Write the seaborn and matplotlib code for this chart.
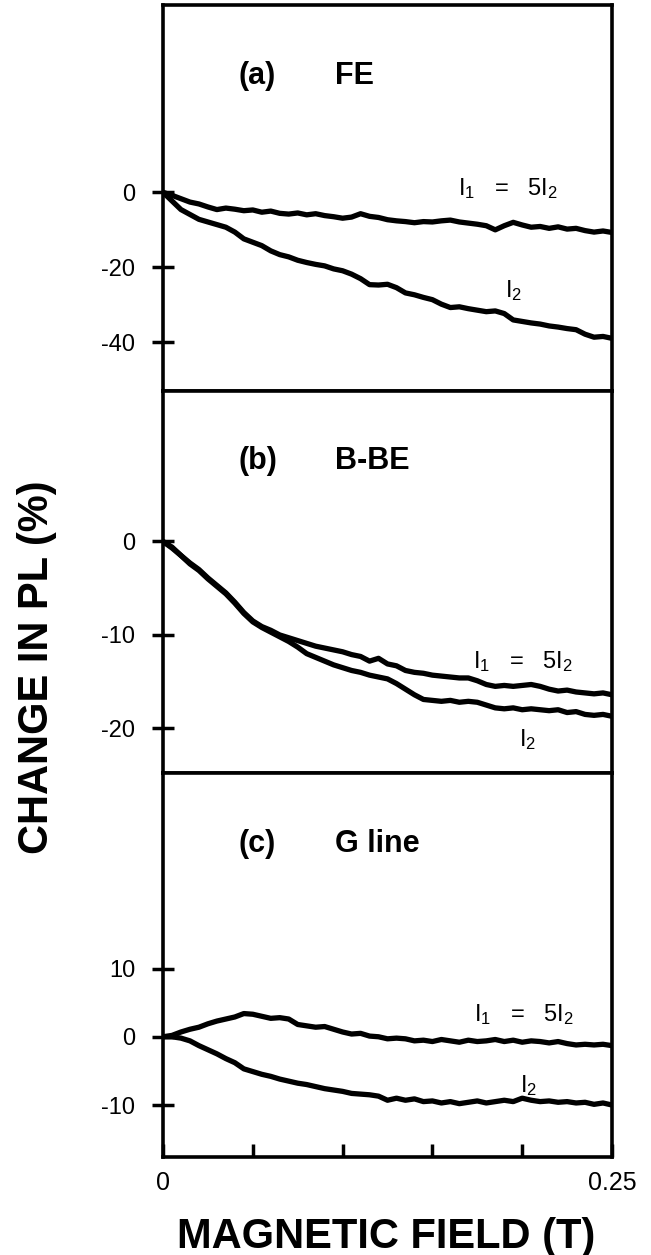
import matplotlib
matplotlib.use("Agg")
import matplotlib.pyplot as plt
import seaborn as sns

# ---------------- data ----------------
FIELD_T = [0.000, 0.005, 0.010, 0.015, 0.020, 0.025, 0.030, 0.035, 0.040, 0.045,
           0.050, 0.055, 0.060, 0.065, 0.070, 0.075, 0.080, 0.085, 0.090, 0.095,
           0.100, 0.105, 0.110, 0.115, 0.120, 0.125, 0.130, 0.135, 0.140, 0.145,
           0.150, 0.155, 0.160, 0.165, 0.170, 0.175, 0.180, 0.185, 0.190, 0.195,
           0.200, 0.205, 0.210, 0.215, 0.220, 0.225, 0.230, 0.235, 0.240, 0.245,
           0.250]

# (a) FE
FE_I1 = [0.0, -0.8, -1.7, -2.6, -3.1, -3.9, -4.6, -4.2, -4.5, -4.9,
         -4.7, -5.3, -5.0, -5.6, -5.8, -5.5, -6.0, -5.7, -6.2, -6.5,
         -6.9, -6.6, -5.7, -6.4, -6.7, -7.3, -7.6, -7.8, -8.1, -7.8,
         -7.9, -7.6, -7.4, -7.9, -8.2, -8.5, -8.9, -10.0, -8.9, -8.0,
         -8.7, -9.3, -9.1, -9.6, -9.2, -9.8, -9.6, -10.2, -10.6, -10.3,
         -10.7]
FE_I2 = [0.0, -2.3, -4.6, -5.9, -7.2, -7.9, -8.6, -9.3, -10.6, -12.4,
         -13.3, -14.2, -15.6, -16.6, -17.2, -18.1, -18.7, -19.2, -19.6, -20.4,
         -20.9, -21.8, -23.0, -24.6, -24.7, -24.5, -25.4, -26.8, -27.3, -28.0,
         -28.6, -29.8, -30.7, -30.5, -31.0, -31.4, -31.8, -31.6, -32.3, -34.0,
         -34.4, -34.8, -35.1, -35.6, -35.9, -36.3, -36.6, -37.8, -38.6, -38.4,
         -38.9]

# (b) B-BE
BBE_I1 = [0.0, -0.6, -1.5, -2.3, -3.0, -3.9, -4.7, -5.5, -6.5, -7.6,
          -8.5, -9.1, -9.5, -10.0, -10.3, -10.6, -10.9, -11.2, -11.4, -11.6,
          -11.8, -12.1, -12.3, -12.8, -12.5, -13.1, -13.3, -13.8, -14.0, -14.1,
          -14.3, -14.4, -14.5, -14.6, -14.6, -14.9, -15.3, -15.5, -15.4, -15.5,
          -15.4, -15.3, -15.5, -15.8, -16.0, -15.9, -16.1, -16.2, -16.3, -16.2,
          -16.4]
BBE_I2 = [0.0, -0.7, -1.5, -2.4, -3.1, -4.0, -4.8, -5.6, -6.6, -7.7,
          -8.6, -9.2, -9.7, -10.2, -10.7, -11.3, -12.0, -12.4, -12.8, -13.2,
          -13.5, -13.8, -14.0, -14.3, -14.5, -14.7, -15.2, -15.8, -16.4, -16.9,
          -17.0, -17.1, -17.0, -17.2, -17.1, -17.2, -17.5, -17.8, -17.9, -17.8,
          -18.0, -17.9, -18.0, -18.1, -18.0, -18.3, -18.2, -18.5, -18.6, -18.5,
          -18.7]

# (c) G line
G_I1 = [0.0, 0.2, 0.7, 1.1, 1.4, 1.9, 2.3, 2.6, 2.9, 3.4,
        3.3, 3.0, 2.7, 2.8, 2.6, 1.8, 1.6, 1.4, 1.5, 1.1,
        0.7, 0.4, 0.5, 0.1, 0.0, -0.3, -0.2, -0.3, -0.6, -0.5,
        -0.7, -0.4, -0.6, -0.8, -0.5, -0.7, -0.6, -0.4, -0.7, -0.5,
        -0.8, -0.6, -0.7, -0.9, -0.7, -1.0, -1.2, -1.1, -1.2, -1.1,
        -1.3]
G_I2 = [0.0, 0.0, -0.2, -0.6, -1.3, -1.9, -2.5, -3.2, -3.8, -4.7,
        -5.1, -5.5, -5.8, -6.2, -6.5, -6.8, -7.0, -7.3, -7.6, -7.8,
        -8.0, -8.3, -8.4, -8.5, -8.7, -9.3, -9.0, -9.3, -9.1, -9.5,
        -9.4, -9.7, -9.5, -9.8, -9.6, -9.4, -9.7, -9.5, -9.3, -9.5,
        -9.0, -9.3, -9.5, -9.4, -9.6, -9.5, -9.7, -9.6, -9.9, -9.7,
        -10.0]

PANEL_TAGS = ["(a)", "(b)", "(c)"]
PANEL_NAMES = ["FE", "B-BE", "G line"]
YTICKS = [[0, -20, -40], [0, -10, -20], [10, 0, -10]]
YLIMS = [(-52.8, 49.9), (-24.8, 16.15), (-17.57, 38.6)]
XTICKS = [0.0, 0.05, 0.10, 0.15, 0.20, 0.25]
XTICK_LABELS = ["0", "", "", "", "", "0.25"]
LABEL_I1 = "I$_1$   =   5I$_2$"
LABEL_I2 = "I$_2$"
# label anchor positions (field, value) for each panel
I1_POS = [(0.164, 1.1), (0.1725, -12.8), (0.173, 3.2)]
I2_POS = [(0.1905, -26.2), (0.198, -21.2), (0.199, -7.1)]

# ---------------- style ----------------
sns.set_style("ticks")
plt.rcParams["font.family"] = ["Liberation Sans", "DejaVu Sans"]
plt.rcParams["mathtext.fontset"] = "custom"
plt.rcParams["mathtext.rm"] = "Liberation Sans"
plt.rcParams["mathtext.it"] = "Liberation Sans:italic"
plt.rcParams["mathtext.bf"] = "Liberation Sans:bold"
plt.rcParams["axes.unicode_minus"] = False
for key in ["text.color", "axes.labelcolor", "xtick.color", "ytick.color",
            "axes.edgecolor"]:
    plt.rcParams[key] = "black"

fig = plt.figure(figsize=(6.51, 12.55), dpi=100)
left, width = 0.2504, 0.6897
boxes = [(0.68884, 0.30717), (0.38382, 0.30502), (0.07833, 0.30550)]

curves = [(FE_I1, FE_I2), (BBE_I1, BBE_I2), (G_I1, G_I2)]

for i, (bottom, height) in enumerate(boxes):
    ax = fig.add_axes([left, bottom, width, height])
    y1, y2 = curves[i]
    sns.lineplot(x=FIELD_T, y=y1, ax=ax, color="black", linewidth=3.8)
    sns.lineplot(x=FIELD_T, y=y2, ax=ax, color="black", linewidth=3.8)
    ax.set_xlim(0, 0.25)
    ax.set_ylim(*YLIMS[i])
    ax.set_yticks(YTICKS[i])
    ax.set_yticklabels([str(v) for v in YTICKS[i]])
    ax.tick_params(axis="y", direction="inout", length=16, width=2.5,
                   labelsize=17, pad=12, colors="black")
    for sp in ax.spines.values():
        sp.set_visible(True)
        sp.set_linewidth(2.6)
        sp.set_color("black")
    ax.set_xlabel("")
    ax.set_ylabel("")
    ax.text(0.168, 0.815, PANEL_TAGS[i], transform=ax.transAxes,
            fontsize=22, fontweight="bold", ha="left", va="center")
    ax.text(0.383, 0.815, PANEL_NAMES[i], transform=ax.transAxes,
            fontsize=22, fontweight="bold", ha="left", va="center")
    ax.text(I1_POS[i][0], I1_POS[i][1], LABEL_I1, fontsize=17,
            ha="left", va="center")
    ax.text(I2_POS[i][0], I2_POS[i][1], LABEL_I2, fontsize=17,
            ha="left", va="center")
    if i < 2:
        ax.tick_params(axis="x", bottom=False, labelbottom=False)
    else:
        ax.set_xticks(XTICKS)
        ax.set_xticklabels(XTICK_LABELS)
        ax.tick_params(axis="x", direction="in", length=9.5, width=2.5,
                       labelsize=18, pad=10, colors="black")

fig.text(0.593, 0.0143, "MAGNETIC FIELD (T)", fontsize=30, fontweight="bold",
         ha="center", va="center")
fig.text(0.057, 0.468, "CHANGE IN PL (%)", fontsize=30, fontweight="bold",
         ha="center", va="center", rotation=90)

fig.savefig("out.png", dpi=100)
